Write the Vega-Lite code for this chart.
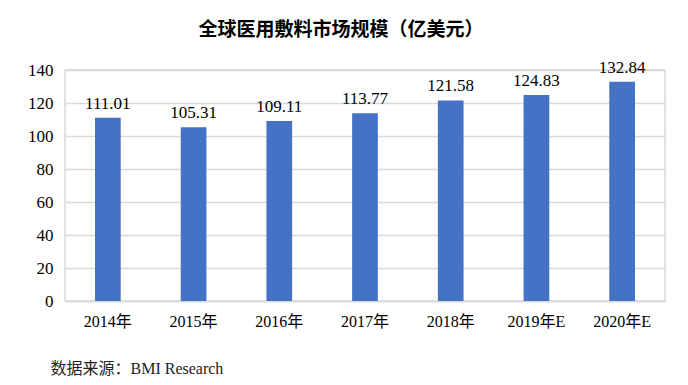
{
  "$schema": "https://vega.github.io/schema/vega-lite/v6.json",
  "autosize": "none",
  "width": 600,
  "height": 231,
  "padding": {"left": 65, "top": 70, "right": 23, "bottom": 84},
  "background": "white",
  "title": {
    "text": "全球医用敷料市场规模（亿美元）",
    "font": "Noto Sans CJK SC",
    "fontSize": 19,
    "fontWeight": "bold",
    "color": "#000000",
    "anchor": "middle",
    "dx": -24,
    "offset": 19
  },
  "config": {
    "view": {"stroke": "#d9d9d9", "strokeWidth": 1.5},
    "font": "Liberation Serif"
  },
  "data": {
    "values": [
      {"year": "2014年", "value": 111.01},
      {"year": "2015年", "value": 105.31},
      {"year": "2016年", "value": 109.11},
      {"year": "2017年", "value": 113.77},
      {"year": "2018年", "value": 121.58},
      {"year": "2019年E", "value": 124.83},
      {"year": "2020年E", "value": 132.84}
    ]
  },
  "encoding": {
    "x": {
      "field": "year",
      "type": "nominal",
      "sort": null,
      "scale": {"paddingInner": 0.7, "paddingOuter": 0.35},
      "axis": {
        "title": "数据来源：BMI Research",
        "titleFont": "Liberation Serif, Noto Sans CJK SC",
        "titleFontSize": 16,
        "titleFontWeight": "normal",
        "titleColor": "#222222",
        "titleAnchor": "start",
        "titleAlign": "left",
        "titleBaseline": "middle",
        "titleX": -15,
        "titleY": 67,
        "labelAngle": 0,
        "labelFont": "Liberation Serif, Noto Sans CJK SC",
        "labelFontSize": 16,
        "labelColor": "#000000",
        "labelPadding": 12,
        "ticks": false,
        "domainColor": "#d9d9d9",
        "domainWidth": 1.5
      }
    },
    "y": {
      "field": "value",
      "type": "quantitative",
      "scale": {"domain": [0, 140], "nice": false},
      "axis": {
        "title": null,
        "values": [0, 20, 40, 60, 80, 100, 120, 140],
        "labelFont": "Liberation Serif",
        "labelFontSize": 17,
        "labelColor": "#000000",
        "labelPadding": 12,
        "ticks": false,
        "domain": false,
        "gridColor": "#d9d9d9",
        "gridWidth": 1.5
      }
    }
  },
  "layer": [
    {"mark": {"type": "bar", "color": "#4472C4"}},
    {
      "mark": {
        "type": "text",
        "baseline": "bottom",
        "dy": -5,
        "font": "Liberation Serif",
        "fontSize": 17,
        "color": "#000000"
      },
      "encoding": {"text": {"field": "value", "type": "quantitative", "format": ".2f"}}
    }
  ]
}
